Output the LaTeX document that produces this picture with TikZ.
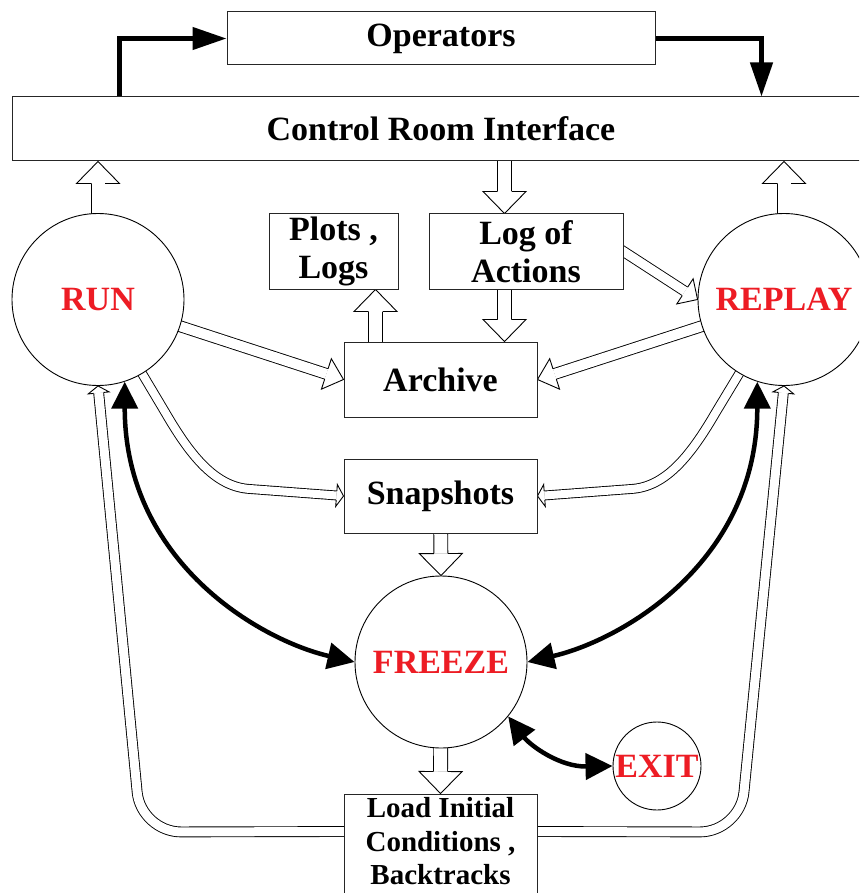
\documentclass[tikz,border=0pt]{standalone}
\usepackage{fontspec}
\setmainfont{Liberation Serif}
\usetikzlibrary{calc,arrows.meta,backgrounds}
\definecolor{red1}{RGB}{237,28,36}
\newcommand\bigf{\fontsize{34}{38}\selectfont\bfseries}
\newcommand\smallf{\fontsize{29}{33.5}\selectfont\bfseries}
\newcommand\headbase[3]{\coordinate (ht) at (#2);\coordinate (hb) at ($(ht)!#3!(#1)$);}
\newcommand\headdraw[2]{%
  \fill[white] ($(hb)!#2!90:(ht)$) -- (ht) -- ($(hb)!#2!-90:(ht)$) -- cycle;
  \draw[hline] ($(hb)!#1!90:(ht)$) -- ($(hb)!#2!90:(ht)$) -- (ht) -- ($(hb)!#2!-90:(ht)$) -- ($(hb)!#1!-90:(ht)$);}
\newcommand\harrow[6]{%
  \headbase{#1}{#2}{#6}%
  \draw[dbl, double distance=#3] (#1) -- (hb);%
  \headdraw{#4}{#5}}
\tikzset{
  box/.style={draw=black!85, line width=1pt, fill=white, rectangle, inner sep=0pt, font=\bigf, align=center},
  st/.style={draw=black, line width=0.9pt, fill=white, circle, inner sep=0pt, minimum size=172pt, text=red1, font=\bigf},
  dbl/.style={draw=black, line width=0.9pt, double=white},
  hline/.style={draw=black, line width=0.9pt},
  blk/.style={line width=4.5pt, draw=black},
  bigtip/.style={-{Triangle[length=34pt,width=22pt]}},
  dtip/.style={{Triangle[length=27pt,width=26pt]}-{Triangle[length=27pt,width=26pt]}}
}
\begin{document}
\begin{tikzpicture}[x=1pt,y=-1pt]
\useasboundingbox (0,0) rectangle (859,893);
\clip (0,0) rectangle (859,893);
% boxes
\node[box, minimum width=428pt, minimum height=53pt] (ops) at (441,38.5) {Operators};
\node[box, minimum width=858pt, minimum height=64pt] (cri) at (441,129) {Control Room Interface};
\node[box, minimum width=129pt, minimum height=75pt] (plots) at (333.5,251.5) {Plots ,\\Logs};
\node[box, minimum width=194pt, minimum height=75pt] (logact) at (526,251.5) {Log of\\Actions};
\node[box, minimum width=193pt, minimum height=75pt] (archive) at (440.5,379.5) {Archive};
\node[box, minimum width=193pt, minimum height=74pt] (snap) at (440.5,496) {Snapshots};
\node[box, minimum width=193pt, minimum height=111pt] (load) at (440.5,849.5) {};
\node[anchor=north, align=center, font=\smallf, inner sep=0pt] (loadtxt) at ($(load.north)+(0,4)$) {Load Initial\\Conditions ,\\Backtracks};
% states
\node[st] (run) at (98,299.5) {RUN};
\node[st] (replay) at (784,299.5) {REPLAY};
\node[st] (freeze) at (441,662) {FREEZE};
\node[st, minimum size=88pt] (exit) at (657,766) {EXIT};
% hollow arrows
\begin{scope}[on background layer]
  \harrow{run.center}{run.center |- cri.south}{13pt}{7pt}{21.5pt}{22pt}
  \harrow{replay.center}{replay.center |- cri.south}{13pt}{7pt}{21.5pt}{22pt}
  \coordinate (cl) at ($(cri.south west)+(493,-20)$);
  \harrow{cl}{cl |- logact.north}{13pt}{7pt}{21.5pt}{22pt}
  \coordinate (lg) at ($(logact.south west)+(76,-20)$);
  \harrow{lg}{lg |- archive.north}{13pt}{7pt}{21.5pt}{22pt}
  \coordinate (ap) at ($(archive.north west)+(32,20)$);
  \harrow{ap}{ap |- plots.south}{13pt}{7pt}{21.5pt}{22pt}
  \harrow{snap.center}{freeze.north}{13pt}{7pt}{21.5pt}{22pt}
  \harrow{freeze.center}{load.north}{13pt}{7pt}{21.5pt}{22pt}
  \harrow{run.center}{archive.west}{10pt}{5.5pt}{16pt}{18pt}
  \harrow{replay.center}{archive.east}{10pt}{5.5pt}{16pt}{18pt}
  \coordinate (la) at ($(logact.east)!-20pt!(replay.west)$);
  \harrow{la}{replay.west}{9pt}{5pt}{15pt}{15pt}
  % curved to snapshots
  \coordinate (rs) at (250,489);
  \headbase{rs}{snap.west}{7pt}
  \draw[dbl, double distance=8pt] (run.center) -- (165,412) .. controls (190,455) and (215,487) .. (rs) -- (hb);
  \headdraw{4.5pt}{11pt}
  \coordinate (ps) at (631,489);
  \headbase{ps}{snap.east}{7pt}
  \draw[dbl, double distance=8pt] (replay.center) -- (716,412) .. controls (691,455) and (666,487) .. (ps) -- (hb);
  \headdraw{4.5pt}{11pt}
  % load back to run / replay
  \coordinate (ll) at ($(load.north west)+(15,38)$);
  \coordinate (lc) at (141,832);
  \headbase{lc}{run.south}{7pt}
  \draw[dbl, double distance=9pt, rounded corners=40pt] (ll) -- (lc) -- (hb);
  \headdraw{5pt}{10.5pt}
  \coordinate (lr) at ($(load.north east)+(-15,38)$);
  \coordinate (rc) at (740,832);
  \headbase{rc}{replay.south}{7pt}
  \draw[dbl, double distance=9pt, rounded corners=40pt] (lr) -- (rc) -- (hb);
  \headdraw{5pt}{10.5pt}
\end{scope}
% black arrows
\draw[blk, bigtip] ($(cri.north west)+(108,0)$) |- (ops.west);
\draw[blk, bigtip] (ops.east) -| ($(cri.north west)+(750,0)$);
\draw[blk, dtip] (run.-72) .. controls +(0,180) and +(-95,-22) .. (freeze.west);
\draw[blk, dtip] (replay.-108) .. controls +(0,180) and +(95,-22) .. (freeze.east);
\draw[blk, dtip] (freeze.-39) .. controls +(22,29) and +(-53,1) .. (exit.west);
\end{tikzpicture}
\end{document}
